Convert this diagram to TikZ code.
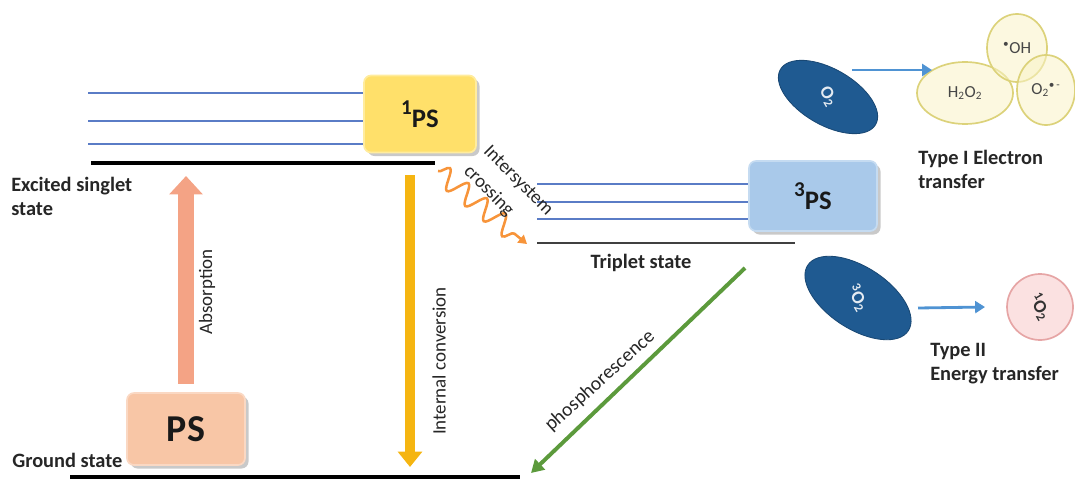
\documentclass[tikz,border=0pt]{standalone}
\usepackage{fontspec}
\setmainfont{Carlito}
\usetikzlibrary{arrows.meta,positioning,shapes.geometric,shadows,decorations.pathmorphing}
\newcommand{\pxu}{0.025cm}
\definecolor{levelblue}{HTML}{5A7CC6}
\definecolor{singyel}{HTML}{FFE06A}
\definecolor{singedge}{HTML}{FFEC9E}
\definecolor{tripblue}{HTML}{A9C9EA}
\definecolor{tripedge}{HTML}{C5DBF1}
\definecolor{gndpeach}{HTML}{F8C6A6}
\definecolor{gndedge}{HTML}{FAD8C3}
\definecolor{abscol}{HTML}{F4A385}
\definecolor{iccol}{HTML}{F5B511}
\definecolor{isccol}{HTML}{F7943A}
\definecolor{phoscol}{HTML}{5C9A3C}
\definecolor{transcol}{HTML}{4F93D3}
\definecolor{oxyblue}{HTML}{1F5A91}
\definecolor{specfill}{HTML}{F9F3C6}
\definecolor{specedge}{HTML}{DCD27A}
\definecolor{singoxfill}{HTML}{FBE1E1}
\definecolor{singoxedge}{HTML}{E6A5A5}
\tikzset{
  statebox/.style={rounded corners=5pt, line width=1.2pt, inner sep=0pt, text=black!90,
                   drop shadow={shadow xshift=2.5pt, shadow yshift=-2.5pt, opacity=0.3, fill=black!70}},
  sublevel/.style={draw=levelblue, line width=0.9pt},
  mainlevel/.style={draw=black, line width=2.2pt},
  statelab/.style={font=\bfseries\fontsize{14.5}{17}\selectfont, text=black!85, align=left, inner sep=0pt},
  proclab/.style={font=\fontsize{13.5}{17}\selectfont, text=black!85, inner sep=0pt},
  absarr/.style={draw=abscol, line width=11pt, -{Triangle[width=23pt,length=13pt]}},
  icarr/.style={draw=iccol, line width=7.5pt, -{Triangle[width=17pt,length=11pt]}},
  iscarr/.style={draw=isccol, line width=1.8pt, -{Triangle[width=7pt,length=6pt]},
                 decorate, decoration={snake, amplitude=7pt, segment length=17pt, post length=6pt}},
  phosarr/.style={draw=phoscol, line width=2.8pt, -{Triangle[width=10pt,length=9pt]}},
  transarr/.style={draw=transcol, line width=2pt, -{Triangle[width=8.5pt,length=7pt]}},
  oxyell/.style={ellipse, fill=oxyblue, draw=oxyblue!80!black, line width=0.6pt, inner sep=0pt},
  oxytext/.style={font=\bfseries\fontsize{13}{13}\selectfont, text=white!88!oxyblue, inner sep=0pt},
  specell/.style={ellipse, fill=specfill, fill opacity=0.55, draw=specedge, line width=1.2pt,
                  text opacity=1, inner sep=0pt, font=\fontsize{12}{12}\selectfont, text=black!72},
}

\begin{document}
\begin{tikzpicture}[x=\pxu, y=-\pxu]
\useasboundingbox (0,0) rectangle (1075,479);

% energy levels
\foreach \yy in {93,121,144}{%
  \draw[sublevel] (88,\yy) -- (380,\yy);
}
\foreach \yy in {184,202,219}{%
  \draw[sublevel] (537,\yy) -- (760,\yy);
}
\draw[mainlevel, line width=3.5pt] (91,163) -- (435,163);
\draw[mainlevel, line width=1.6pt, draw=black!75] (537,243) -- (795,243);
\draw[mainlevel, line width=2.2pt] (70,477) -- (520,477);

% state boxes
\node[statebox, fill=singyel, draw=singedge, minimum width=112*\pxu, minimum height=77*\pxu,
      font=\bfseries\fontsize{19}{19}\selectfont] (ps1) at (420,114)
  {\raisebox{0.5em}{\fontsize{15}{15}\selectfont 1}PS};
\node[statebox, fill=tripblue, draw=tripedge, minimum width=128*\pxu, minimum height=70*\pxu,
      font=\bfseries\fontsize{19}{19}\selectfont] (ps3) at (813,196)
  {\raisebox{0.5em}{\fontsize{15}{15}\selectfont 3}PS};
\node[statebox, fill=gndpeach, draw=gndedge, minimum width=118*\pxu, minimum height=72*\pxu,
      font=\bfseries\fontsize{27}{27}\selectfont] (ps0) at (186,429) {PS};

% level labels
\node[statelab, anchor=west] (exclab) at (11,196) {Excited singlet\\state};
\node[statelab, anchor=west] (gndlab) at (12,460) {Ground state};
\node[statelab] (triplab) at (641,263) {Triplet state};

% transitions
\coordinate (absTip) at (186,176);
\draw[absarr] ([yshift=6pt]ps0.north) -- (ps0.north |- absTip);
\node[proclab, rotate=90] (abslab) at (207,292) {Absorption};

\coordinate (icTop) at (410,175);
\coordinate (icBot) at (410,467);
\draw[icarr] (icTop) -- (icBot);
\node[proclab, rotate=90] (iclab) at (439,361) {Internal conversion};

\coordinate (iscA) at (438,171);
\coordinate (iscB) at (527,244);
\draw[iscarr] (iscA) -- (iscB);
\node[proclab, rotate=-45, align=left, font=\fontsize{13.5}{20}\selectfont] (isclab) at (508,191) {Intersystem\\crossing};

\coordinate (phA) at (745,268);
\coordinate (phB) at (531,473);
\draw[phosarr] (phA) -- (phB);
\node[proclab, rotate=42, font=\fontsize{14}{14}\selectfont] (phoslab) at (600,381) {phosphorescence};

% type I
\node[oxyell, minimum width=110*\pxu, minimum height=56*\pxu, rotate=-30] (o2) at (828,97) {};
\node[oxytext, rotate=-60] (o2lab) at (o2) {O\textsubscript{2}};
\node[specell, minimum width=96*\pxu, minimum height=62*\pxu] (h2o2) at (965,93) {H\textsubscript{2}O\textsubscript{2}};
\node[specell, minimum width=60*\pxu, minimum height=68*\pxu] (oh) at (1017,48) {\textsuperscript{\textbullet}OH};
\node[specell, minimum width=58*\pxu, minimum height=70*\pxu] (supox) at (1046,90) {O\textsubscript{2}\textsuperscript{\textbullet\,-}};
\coordinate (o2out) at (852,70);
\coordinate (h2o2in) at (932,70);
\draw[transarr] (o2out) -- (h2o2in);
\node[statelab, anchor=west] (typeone) at (918,169) {Type I Electron\\transfer};

% type II
\node[oxyell, minimum width=120*\pxu, minimum height=62*\pxu, rotate=-33] (o2t) at (858,298) {};
\node[oxytext, rotate=-60] (o2tlab) at (o2t) {\textsuperscript{3}O\textsubscript{2}};
\node[circle, fill=singoxfill, draw=singoxedge, line width=1.2pt, minimum size=66*\pxu] (o2s) at (1040,307) {};
\node[oxytext, text=black!80, rotate=-60] (o2slab) at (o2s) {\textsuperscript{1}O\textsubscript{2}};
\coordinate (o2tout) at (918,308);
\coordinate (o2sin) at (985,307);
\draw[transarr] (o2tout) -- (o2sin);
\node[statelab, anchor=west] (typetwo) at (930,364) {Type II\\Energy transfer};
\end{tikzpicture}
\end{document}
